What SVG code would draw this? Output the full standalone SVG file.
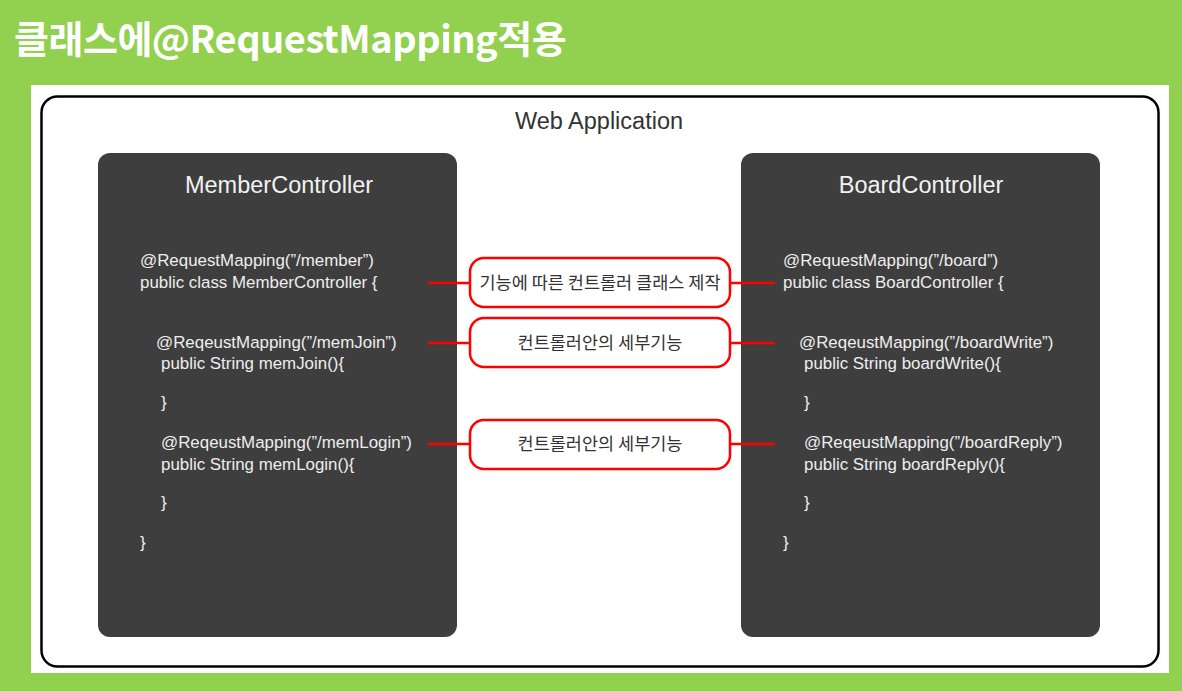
<svg xmlns="http://www.w3.org/2000/svg" width="1182" height="691" viewBox="0 0 1182 691">
<style>
.title{font-family:"Noto Sans CJK KR","Liberation Sans",sans-serif;font-weight:bold;font-size:38px;fill:#fff;letter-spacing:-0.5px}
.app{font-family:"Liberation Sans","Noto Sans CJK KR",sans-serif;font-size:23.5px;fill:#333}
.ctl{font-family:"Liberation Sans","Noto Sans CJK KR",sans-serif;font-size:23.5px;fill:#f2f2f2;text-anchor:middle}
.code{font-family:"Liberation Sans","Noto Sans CJK KR",sans-serif;font-size:16.9px;fill:#eeeeee}
.lbl{font-family:"Noto Sans CJK KR","Liberation Sans",sans-serif;font-size:17.5px;fill:#333;text-anchor:middle}
.dark{fill:#3e3e3e}
.red{fill:#fff;stroke:#ff0000;stroke-width:2.5}
.conn{stroke:#ff0000;stroke-width:2.5;fill:none}
</style>
<rect x="0" y="0" width="1182" height="691" fill="#92d050"/>
<text class="title" x="14" y="53">클래스에@RequestMapping적용</text>
<rect x="31" y="85" width="1138" height="588" fill="#fff"/>
<g id="web-application">
<rect x="41.5" y="96.5" width="1117" height="570" rx="16" fill="#fff" stroke="#000" stroke-width="2.5"/>
<text class="app" x="599" y="129" text-anchor="middle">Web Application</text>
</g>
<g id="member-controller">
<rect class="dark" x="98" y="153" width="359" height="484" rx="12"/>
<text class="ctl" x="279" y="193">MemberController</text>
<text class="code" x="140" y="266">@RequestMapping(”/member”)</text>
<text class="code" x="140" y="288">public class MemberController {</text>
<text class="code" x="156" y="348">@ReqeustMapping(”/memJoin”)</text>
<text class="code" x="161" y="369">public String memJoin(){</text>
<text class="code" x="161" y="408">}</text>
<text class="code" x="161" y="448">@ReqeustMapping(”/memLogin”)</text>
<text class="code" x="161" y="470">public String memLogin(){</text>
<text class="code" x="161" y="508">}</text>
<text class="code" x="140" y="548">}</text>
</g>
<g id="board-controller">
<rect class="dark" x="741" y="153" width="359" height="484" rx="12"/>
<text class="ctl" x="921" y="193">BoardController</text>
<text class="code" x="783" y="266">@RequestMapping(”/board”)</text>
<text class="code" x="783" y="288">public class BoardController {</text>
<text class="code" x="799" y="348">@ReqeustMapping(”/boardWrite”)</text>
<text class="code" x="804" y="369">public String boardWrite(){</text>
<text class="code" x="804" y="408">}</text>
<text class="code" x="804" y="448">@ReqeustMapping(”/boardReply”)</text>
<text class="code" x="804" y="470">public String boardReply(){</text>
<text class="code" x="804" y="508">}</text>
<text class="code" x="783" y="548">}</text>
</g>
<g id="connectors">
<line class="conn" x1="428" y1="283" x2="470" y2="283"/>
<line class="conn" x1="730" y1="283" x2="775" y2="283"/>
<line class="conn" x1="428" y1="343" x2="470" y2="343"/>
<line class="conn" x1="730" y1="343" x2="775" y2="343"/>
<line class="conn" x1="428" y1="444" x2="470" y2="444"/>
<line class="conn" x1="730" y1="444" x2="775" y2="444"/>
</g>
<g id="label-class">
<rect class="red" x="470" y="258" width="260" height="49" rx="14"/>
<text class="lbl" x="600" y="289">기능에 따른 컨트롤러 클래스 제작</text>
</g>
<g id="label-detail-1">
<rect class="red" x="470" y="318" width="260" height="49" rx="14"/>
<text class="lbl" x="600" y="349">컨트롤러안의 세부기능</text>
</g>
<g id="label-detail-2">
<rect class="red" x="470" y="420" width="260" height="49" rx="14"/>
<text class="lbl" x="600" y="450">컨트롤러안의 세부기능</text>
</g>
</svg>
